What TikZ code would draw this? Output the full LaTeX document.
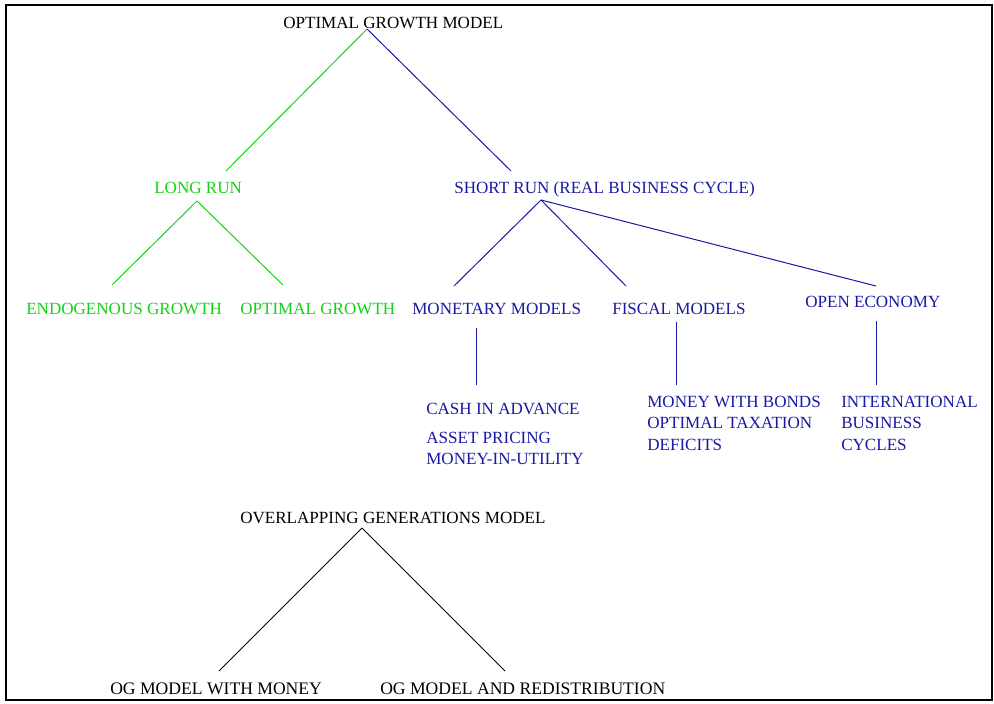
\documentclass[tikz,border=0pt]{standalone}
\usepackage{fontspec}
\setmainfont{Liberation Serif}
\definecolor{runGreen}{RGB}{20,210,20}
\definecolor{runBlue}{RGB}{25,25,165}

\begin{document}
\begin{tikzpicture}[x=0.75pt, y=-0.75pt,
    nodetext/.style={inner sep=0pt, anchor=base west, font=\fontsize{12.8}{16}\selectfont},
    nodeblock/.style={nodetext, anchor=north west, align=left},
    branch/.style={line width=0.75pt}]
        % Page size and frame
        \useasboundingbox (0,0) rectangle (994,703);
        \draw[line width=2.2pt, line cap=rect] (992,5) -- (6,5) -- (6,700) -- (992,700);
        \draw[line width=1.3pt] (992,5) -- (992,700);

        % Optimal growth model and its two runs
        \node[nodetext] (ogm) at (283,28) {OPTIMAL GROWTH MODEL};
        \node[nodetext, text=runGreen] (longrun) at (154,193) {LONG RUN};
        \node[nodetext, text=runBlue] (shortrun) at (454,193) {SHORT RUN (REAL BUSINESS CYCLE)};

        % Long run branches
        \node[nodetext, text=runGreen] (endog) at (26,314) {ENDOGENOUS GROWTH};
        \node[nodetext, text=runGreen] (optgrowth) at (240,314) {OPTIMAL GROWTH};

        % Short run branches
        \node[nodetext, text=runBlue] (monetary) at (412,314) {MONETARY MODELS};
        \node[nodetext, text=runBlue] (fiscal) at (612,314) {FISCAL MODELS};
        \node[nodetext, text=runBlue] (open) at (805,307) {OPEN ECONOMY};

        % Topics under each short run model
        \node[nodetext, text=runBlue] (cash) at (426,414) {CASH IN ADVANCE};
        \node[nodeblock, text=runBlue] (asset) at (426,432) {ASSET PRICING\\MONEY-IN-UTILITY};
        \node[nodeblock, text=runBlue] (bonds) at (647,396) {MONEY WITH BONDS\\OPTIMAL TAXATION\\DEFICITS};
        \node[nodeblock, text=runBlue] (intl) at (841,396) {INTERNATIONAL\\BUSINESS\\CYCLES};

        % Overlapping generations model
        \node[nodetext] (olg) at (240,523) {OVERLAPPING GENERATIONS MODEL};
        \node[nodetext, font=\fontsize{13.2}{16}\selectfont] (ogmoney) at (110,694) {OG MODEL WITH MONEY};
        \node[nodetext, font=\fontsize{13.2}{16}\selectfont] (ogredist) at (380,694) {OG MODEL AND REDISTRIBUTION};

        % Joints where the branches meet the labels
        \coordinate (ogm-j) at (367,29);
        \coordinate (longrun-top) at (226,171);
        \coordinate (shortrun-top) at (511,171);
        \coordinate (longrun-j) at (197,201);
        \coordinate (endog-top) at (112,285);
        \coordinate (optgrowth-top) at (283,285);
        \coordinate (shortrun-j) at (541,200);
        \coordinate (monetary-top) at (454,286);
        \coordinate (fiscal-top) at (626,286);
        \coordinate (open-top) at (876,286);
        \coordinate (monetary-j) at (476,328);
        \coordinate (fiscal-j) at (676,322);
        \coordinate (open-j) at (876,321);
        \coordinate (monetary-end) at (476,385);
        \coordinate (fiscal-end) at (676,385);
        \coordinate (open-end) at (876,385);
        \coordinate (olg-j) at (362,528);
        \coordinate (ogmoney-top) at (219,671);
        \coordinate (ogredist-top) at (505,671);

        % Branches
        \draw[branch, runGreen] (ogm-j) -- (longrun-top);
        \draw[branch, runBlue] (ogm-j) -- (shortrun-top);
        \draw[branch, runGreen] (longrun-j) -- (endog-top);
        \draw[branch, runGreen] (longrun-j) -- (optgrowth-top);
        \foreach \target in {monetary,fiscal,open}
            \draw[branch, runBlue] (shortrun-j) -- (\target-top);
        \foreach \target in {monetary,fiscal,open}
            \draw[branch, runBlue] (\target-j) -- (\target-end);
        \draw[branch] (olg-j) -- (ogmoney-top);
        \draw[branch] (olg-j) -- (ogredist-top);
\end{tikzpicture}
\end{document}
